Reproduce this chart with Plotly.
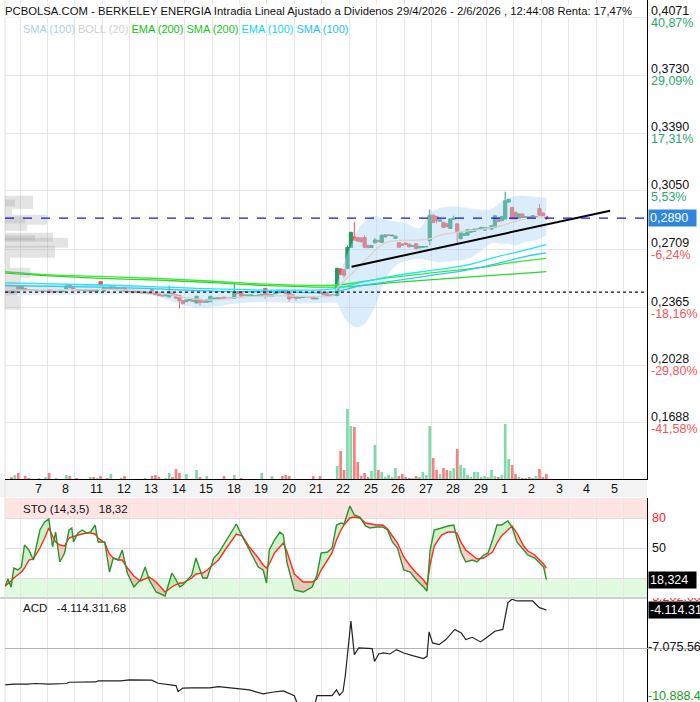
import plotly.graph_objects as go

W, H = 700, 702
FONT = "Liberation Sans, Arial, sans-serif"

# ---------------- data ----------------
title_text = ("PCBOLSA.COM - BERKELEY ENERGIA Intradia Lineal Ajustado a Dividenos "
              "29/4/2026 - 2/6/2026 , 12:44:08 Renta: 17,47%")
legend_items = ["SMA (100)", "BOLL (20)", "EMA (200)", "SMA (200)", "EMA (100)", "SMA (100)"]
day_labels = ["7", "8", "11", "12", "13", "14", "15", "18", "19", "20", "21", "22",
              "25", "26", "27", "28", "29", "1", "2", "3", "4", "5"]
bars_per_day = 8
first_day_start = 7.5          # bar position where day "7" opens

opens = [
    .2462, .2458, .2455, .2490, .2474, .2478, .2468, .2466,
    .2468, .2464, .2466, .2462, .2470, .2462, .2458, .2460,
    .2458, .2476, .2498, .2482, .2470, .2468, .2466, .2468,
    .2464, .2466, .2462, .2517, .2462, .2484, .2478, .2486,
    .2470, .2476, .2482, .2462, .2458, .2460, .2456, .2458,
    .2452, .2455, .2470, .2448, .2446, .2438, .2434, .2428,
    .2450, .2440, .2436, .2406, .2400, .2406, .2410, .2392,
    .2414, .2404, .2396, .2400, .2416, .2418, .2422, .2426,
    .2420, .2419, .2420, .2460, .2459, .2440, .2436, .2438,
    .2432, .2436, .2438, .2478, .2444, .2432, .2446, .2452,
    .2462, .2466, .2456, .2440, .2430, .2422, .2424, .2428,
    .2430, .2428, .2416, .2458, .2450, .2446, .2440, .2436,
    .2436, .2592, .2588, .2595, .2718, .2780, .2776, .2774,
    .2776, .2730, .2718, .2746, .2760, .2748, .2780, .2790,
    .2786, .2772, .2746, .2738, .2744, .2738, .2726, .2740,
    .2716, .2720, .2722, .2758, .2908, .2900, .2872, .2865,
    .2858, .2830, .2884, .2857, .2770, .2790, .2790, .2808,
    .2812, .2824, .2826, .2820, .2832, .2826, .2836, .2890,
    .2875, .2885, .2985, .2953, .2925, .2890, .2915, .2896,
    .2898, .2890, .2900, .2947, .2920, .2900]
highs = [
    .2464, .2460, .2460, .2494, .2492, .2480, .2470, .2470,
    .2470, .2468, .2468, .2466, .2472, .2464, .2462, .2462,
    .2464, .2496, .2502, .2484, .2472, .2470, .2470, .2470,
    .2468, .2468, .2466, .2520, .2486, .2486, .2490, .2488,
    .2478, .2478, .2484, .2464, .2462, .2462, .2460, .2460,
    .2456, .2456, .2472, .2450, .2448, .2440, .2442, .2494,
    .2452, .2442, .2438, .2408, .2412, .2416, .2412, .2434,
    .2416, .2406, .2414, .2434, .2422, .2424, .2424, .2428,
    .2422, .2423, .2505, .2462, .2462, .2442, .2440, .2442,
    .2438, .2440, .2444, .2480, .2446, .2442, .2454, .2466,
    .2466, .2468, .2458, .2442, .2432, .2426, .2430, .2432,
    .2432, .2430, .2422, .2468, .2452, .2448, .2442, .2442,
    .2600, .2596, .2590, .2730, .2812, .2869, .2780, .2778,
    .2790, .2735, .2734, .2775, .2764, .2796, .2796, .2794,
    .2794, .2788, .2750, .2742, .2748, .2740, .2732, .2744,
    .2728, .2724, .2726, .2940, .2912, .2904, .2884, .2868,
    .2862, .2890, .2905, .2860, .2810, .2802, .2826, .2824,
    .2830, .2830, .2840, .2838, .2836, .2850, .2910, .2896,
    .2904, .3045, .3004, .2958, .2928, .2918, .2918, .2900,
    .2900, .2908, .2904, .2973, .2924, .2904]
lows = [
    .2454, .2450, .2453, .2472, .2472, .2468, .2464, .2464,
    .2462, .2462, .2460, .2460, .2452, .2456, .2456, .2456,
    .2456, .2474, .2480, .2468, .2466, .2464, .2464, .2462,
    .2462, .2460, .2460, .2496, .2458, .2476, .2476, .2468,
    .2468, .2468, .2460, .2456, .2456, .2454, .2454, .2450,
    .2450, .2448, .2446, .2440, .2434, .2432, .2432, .2424,
    .2436, .2418, .2360, .2386, .2398, .2404, .2398, .2390,
    .2376, .2396, .2394, .2398, .2414, .2416, .2416, .2418,
    .2418, .2417, .2418, .2444, .2430, .2434, .2434, .2436,
    .2430, .2434, .2436, .2418, .2428, .2430, .2444, .2450,
    .2458, .2444, .2400, .2422, .2405, .2420, .2422, .2426,
    .2426, .2414, .2414, .2446, .2438, .2436, .2434, .2434,
    .2432, .2555, .2540, .2590, .2716, .2758, .2750, .2748,
    .2714, .2712, .2716, .2740, .2748, .2746, .2778, .2786,
    .2784, .2770, .2716, .2728, .2732, .2718, .2724, .2708,
    .2714, .2716, .2718, .2730, .2860, .2860, .2870, .2832,
    .2838, .2828, .2882, .2742, .2766, .2786, .2788, .2806,
    .2810, .2820, .2822, .2818, .2828, .2820, .2832, .2868,
    .2872, .2882, .2980, .2882, .2882, .2888, .2890, .2894,
    .2892, .2888, .2898, .2905, .2898, .2880]
closes = [
    .2456, .2452, .2458, .2474, .2490, .2470, .2466, .2468,
    .2464, .2466, .2462, .2465, .2456, .2458, .2460, .2458,
    .2462, .2492, .2482, .2470, .2468, .2466, .2468, .2464,
    .2466, .2462, .2464, .2498, .2484, .2478, .2486, .2470,
    .2476, .2470, .2462, .2458, .2460, .2456, .2458, .2452,
    .2455, .2450, .2448, .2442, .2436, .2434, .2440, .2458,
    .2438, .2420, .2406, .2388, .2410, .2414, .2400, .2432,
    .2396, .2398, .2412, .2432, .2420, .2422, .2418, .2420,
    .2419, .2421, .2458, .2446, .2432, .2436, .2438, .2440,
    .2436, .2438, .2442, .2440, .2430, .2440, .2452, .2464,
    .2460, .2446, .2416, .2424, .2420, .2424, .2428, .2430,
    .2428, .2416, .2420, .2448, .2440, .2438, .2436, .2440,
    .2595, .2560, .2555, .2718, .2806, .2762, .2756, .2752,
    .2720, .2718, .2730, .2762, .2752, .2790, .2792, .2790,
    .2790, .2784, .2720, .2732, .2736, .2722, .2728, .2712,
    .2724, .2722, .2724, .2908, .2865, .2876, .2880, .2836,
    .2840, .2886, .2890, .2806, .2806, .2798, .2822, .2820,
    .2826, .2826, .2836, .2834, .2834, .2846, .2904, .2870,
    .2900, .2992, .3000, .2885, .2885, .2915, .2894, .2898,
    .2894, .2905, .2900, .2908, .2900, .2890]
volumes = [
    0, 2, 4, 6, 0, 3, 1, 0,
    0, 1, 0, 2, 6, 0, 1, 0,
    0, 4, 3, 0, 1, 0, 0, 0,
    2, 2, 1, 3, 0, 1, 5, 0,
    0, 1, 3, 0, 0, 0, 0, 0,
    1, 0, 3, 4, 2, 0, 1, 6,
    2, 10, 6, 0, 5, 0, 0, 9,
    2, 0, 3, 0, 0, 0, 0, 3,
    0, 0, 4, 0, 1, 0, 0, 0,
    0, 0, 6, 0, 0, 3, 0, 0,
    3, 4, 3, 0, 0, 0, 0, 0,
    0, 3, 0, 3, 0, 0, 0, 0,
    13, 28, 9, 70, 53, 52, 17, 3,
    6, 2, 8, 34, 9, 7, 2, 4,
    2, 11, 3, 5, 2, 1, 1, 3,
    2, 7, 4, 53, 21, 9, 5, 11,
    9, 8, 11, 30, 14, 11, 4, 2,
    7, 7, 2, 3, 2, 9, 3, 2,
    4, 55, 20, 14, 5, 2, 1, 1,
    2, 1, 3, 10, 2, 5]

# moving averages (bar position, price)
ema200_x = [-1, 12, 27, 44, 60, 72, 96, 108, 123, 138, 147, 157]
ema200_y = [.2576, .2557, .2548, .2536, .2520, .2506, .2498, .2533, .2568, .2601, .2630, .2654]
sma200_x = [-1, 12, 27, 44, 60, 72, 96, 113, 133, 147, 157]
sma200_y = [.2568, .2552, .2537, .2526, .2512, .2498, .2486, .2513, .2543, .2562, .2576]
ema100_x = [-1, 27, 40, 60, 80, 95, 103, 113, 123, 133, 142, 152, 157]
ema100_y = [.2510, .2498, .2490, .2475, .2468, .2475, .2513, .2553, .2582, .2611, .2660, .2709, .2735]
sma100_x = [-1, 27, 40, 60, 80, 95, 103, 113, 123, 133, 142, 152, 157]
sma100_y = [.2495, .2485, .2478, .2462, .2457, .2457, .2494, .2523, .2553, .2582, .2621, .2670, .2686]

# Bollinger (20)
boll_x = [-1, 10, 20, 30, 40, 45, 50, 55, 60, 65, 70, 75, 80, 85, 90, 95, 96, 98, 100, 102,
          104, 106, 108, 110, 113, 116, 120, 123, 126, 130, 134, 138, 141, 144, 146, 148, 151, 154, 157]
boll_lo = [.2435, .2440, .2442, .2444, .2440, .2420, .2385, .2365, .2370, .2385, .2395, .2398, .2395,
           .2390, .2392, .2395, .2390, .2310, .2265, .2250, .2270, .2330, .2420, .2530, .2610, .2640,
           .2650, .2640, .2630, .2640, .2650, .2700, .2745, .2740, .2740, .2730, .2750, .2760, .2790]
boll_mid = [.2465, .2468, .2470, .2472, .2462, .2450, .2430, .2415, .2410, .2420, .2430, .2432, .2435,
            .2432, .2430, .2436, .2480, .2520, .2560, .2600, .2640, .2680, .2720, .2745, .2758, .2760,
            .2762, .2769, .2790, .2805, .2815, .2825, .2835, .2846, .2860, .2872, .2885, .2894, .2900]
boll_up = [.2500, .2498, .2500, .2502, .2490, .2480, .2475, .2480, .2465, .2460, .2465, .2468, .2475,
           .2472, .2468, .2475, .2510, .2630, .2730, .2820, .2870, .2900, .2900, .2880, .2870, .2860,
           .2830, .2920, .2950, .2960, .2950, .2940, .2945, .2990, .3010, .3020, .3020, .3015, .3010]

# drawn trend line and reference levels
trend_x = [100.2, 175.6]
trend_y = [.2605, .2934]
last_price = 0.2890
support_level = 0.2456

# volume-by-price profile
prof_lo = [.2945, .2910, .2852, .2816, .2752, .2717, .2658, .2599, .2541, .2494, .2435, .2353, .2960, .2860, .2760]
prof_hi = [.3022, .2945, .2910, .2852, .2805, .2775, .2728, .2658, .2599, .2541, .2494, .2435, .3000, .2900, .2790]
prof_vol = [28, 7, 42, 22, 48, 63, 50, 5, 25, 15, 12, 15, 10, 20, 30]

# right price scale
price_ticks = [0.4071, 0.3730, 0.3390, 0.3050, 0.2709, 0.2365, 0.2028, 0.1688, 0.1347]
price_pct = ["40,87%", "29,09%", "17,31%", "5,53%", "-6,24%", "-18,16%", "-29,80%", "-41,58%", ""]

# Stochastic (14,3,5)
sto_x = [-0.8, 0, 0.9, 1.7, 2.9, 3.9, 4.8, 6.1, 7.4, 9.3, 10.7, 11.9, 13, 13.9, 15.1, 16.5, 17.8,
         18.6, 19.1, 20.4, 21.7, 23, 24.1, 25.4, 26.3, 28.2, 29.6, 30.7, 32.2, 33.3, 34.8, 36.7,
         38.6, 40, 41.2, 43.2, 45.8, 47.8, 48.7, 50.1, 51, 53.6, 54.8, 56.8, 58.1, 60, 61.4, 63.3,
         65.2, 66.6, 68.4, 70.4, 73, 74.4, 75.4, 76.2, 77.7, 79.3, 80.3, 81.4, 83.5, 86.1, 88.7,
         90.1, 91.3, 93.2, 94.5, 95.8, 97.1, 98, 99.7, 101, 102.6, 104.3, 105.5, 107.5, 109.3,
         110.7, 112.1, 113.6, 115.4, 117.3, 119.1, 121.2, 122.2, 123.1, 124.3, 126.4, 128.3, 130,
         130.9, 132.2, 133.5, 135.4, 136.8, 138.7, 140, 141.3, 142.6, 143.9, 145.8, 147, 148.4,
         150.4, 151.6, 153.6, 155, 156.2, 157]
sto_k = [12, 19, 11, 30, 28, 31, 53, 48, 38, 68, 76, 79, 51, 66, 36, 45, 68, 70, 56, 65,
         68, 65, 66, 73, 56, 56, 26, 40, 38, 48, 25, 11, 18, 31, 18, 6, 2, 25, 20, 11,
         13, 23, 40, 20, 20, 40, 45, 56, 66, 74, 61, 48, 31, 28, 15, 48, 58, 66, 63, 35,
         8, 6, 11, 23, 45, 46, 50, 73, 75, 74, 92, 83, 81, 72, 70, 71, 71, 68, 56, 50,
         28, 26, 18, 11, 7, 48, 68, 70, 72, 73, 60, 45, 36, 38, 36, 43, 45, 58, 73, 73,
         77, 71, 56, 48, 43, 40, 35, 31, 18.324]
sto_d = [12, 14, 17, 20, 23, 26, 30, 38, 39, 50, 60, 70, 62, 56, 53, 52, 60, 61, 62, 63,
         64, 65, 65, 64, 60, 55, 44, 40, 38, 38, 30, 22, 17, 19, 21, 16, 6, 11, 13, 15,
         15, 20, 24, 25, 28, 34, 38, 48, 58, 64, 62, 51, 40, 33, 30, 34, 45, 51, 55, 46,
         24, 16, 16, 19, 28, 38, 45, 58, 68, 73, 80, 81, 80, 75, 74, 73, 73, 69, 62, 55,
         41, 32, 25, 18, 13, 33, 52, 63, 66, 66, 65, 55, 48, 43, 39, 40, 43, 46, 55, 62,
         68, 72, 65, 52, 47, 43, 38, 34, 30]
sto_label = "STO (14,3,5)   18,32"
sto_last = "18,324"

# Accumulation / distribution (millions)
acd_x = [-0.8, 1.6, 5.5, 8.1, 11.9, 17.1, 17.8, 21.1, 23.7, 25.5, 26.3, 32.8, 35.4, 39.3, 41.9,
         43.8, 49, 49.6, 51, 53.6, 58.8, 61.4, 65.2, 70.4, 74.4, 77, 80.3, 83.5, 84.5, 89.5,
         90.1, 94.5, 95.8, 96.7, 97.7, 98.4, 100, 101, 102.3, 105.5, 106.2, 106.9, 108.1, 109.5,
         111.4, 113.3, 115.4, 118, 121.2, 122.2, 122.8, 123.8, 125.7, 127.7, 130.3, 132.2, 133.5,
         135.4, 137.8, 139.4, 142, 144.3, 145.8, 147, 148.4, 153, 155, 157]
acd_v = [-9.95, -9.89, -9.89, -9.84, -9.89, -9.84, -9.74, -9.74, -9.69, -9.72, -9.64, -9.64, -9.56,
         -9.58, -9.58, -9.82, -10.0, -10.47, -10.2, -10.18, -10.18, -10.08, -10.2, -10.34, -10.65,
         -10.52, -10.42, -10.79, -11.5, -11.5, -10.79, -10.79, -10.34, -10.75, -10.47, -9.16, -4.98,
         -7.59, -7.07, -7.07, -7.12, -8.12, -7.54, -7.46, -7.54, -7.2, -7.46, -7.67, -7.9, -7.72,
         -5.82, -6.68, -6.81, -6.42, -5.63, -5.9, -6.42, -6.24, -6.6, -6.3, -5.77, -5.63, -3.54,
         -3.28, -3.41, -3.41, -3.93, -4.114]
acd_label = "ACD   -4.114.311,68"
acd_scale_vals = [-3.202, -7.0756, -10.888]
acd_scale_txt = ["-3.202.000", "-7.075.560", "-10.888.400"]
acd_last_txt = "-4.114.311"

# ---------------- layout geometry (pixels) ----------------
X0, X1 = 5, 647
MAIN_T, MAIN_B = 0, 479
BAND_B = 497
STO_T, STO_B = 498, 598
ACD_T, ACD_B = 598, 702
BAR_PX = 3.429                       # pixels per bar
XR = [(X0 - 8) / BAR_PX, (X1 - 8) / BAR_PX]
PRICE_RANGE = [0.1359, 0.4171]
ACD_RANGE = [-11.28, -3.18]


def fx(p):
    return p / W


def fy(p):
    return 1 - p / H


GREEN_C, RED_C = "#1f9a64", "#f24c4c"
VOL_G, VOL_R = "#7edaa8", "#f98080"
GRID = "#e6e6e6"

bar_x = list(range(len(closes)))
fig = go.Figure()

# volume profile
fig.add_trace(go.Bar(orientation="h", x=prof_vol,
                     y=[(a + b) / 2 for a, b in zip(prof_lo, prof_hi)],
                     width=[b - a for a, b in zip(prof_lo, prof_hi)], base=0,
                     marker=dict(color="rgba(150,150,150,0.26)", line=dict(width=0)),
                     xaxis="x4", yaxis="y", hoverinfo="skip"))
# Bollinger band
fig.add_trace(go.Scatter(x=boll_x, y=boll_lo, mode="lines", line=dict(width=0, shape="spline"),
                         xaxis="x", yaxis="y", hoverinfo="skip"))
fig.add_trace(go.Scatter(x=boll_x, y=boll_up, mode="lines", line=dict(width=0, shape="spline"),
                         fill="tonexty", fillcolor="rgba(175,212,243,0.45)",
                         xaxis="x", yaxis="y", hoverinfo="skip"))
# volume
vcol = [VOL_G if c >= o else VOL_R for o, c in zip(opens, closes)]
fig.add_trace(go.Bar(x=bar_x, y=volumes, width=0.78, marker=dict(color=vcol, line=dict(width=0)),
                     xaxis="x", yaxis="y2", hoverinfo="skip"))
# moving averages
for xs, ys, col in [(ema200_x, ema200_y, "#36e836"), (sma200_x, sma200_y, "#2cd62c"),
                    (ema100_x, ema100_y, "#1ce6f7"), (sma100_x, sma100_y, "#2ec8f4")]:
    fig.add_trace(go.Scatter(x=xs, y=ys, mode="lines", line=dict(color=col, width=1.3, shape="spline"),
                             xaxis="x", yaxis="y", hoverinfo="skip"))
fig.add_trace(go.Scatter(x=boll_x, y=boll_mid, mode="lines",
                         line=dict(color="#d9d3cc", width=1.3, shape="spline"),
                         xaxis="x", yaxis="y", hoverinfo="skip"))
# candles
fig.add_trace(go.Candlestick(x=bar_x, open=opens, high=highs, low=lows, close=closes,
                             increasing=dict(line=dict(color=GREEN_C, width=1), fillcolor=GREEN_C),
                             decreasing=dict(line=dict(color=RED_C, width=1), fillcolor=RED_C),
                             whiskerwidth=0, xaxis="x", yaxis="y", hoverinfo="skip"))
# trend line
fig.add_trace(go.Scatter(x=trend_x, y=trend_y, mode="lines", line=dict(color="black", width=2),
                         xaxis="x", yaxis="y", hoverinfo="skip"))


# stochastic fills between %K and %D
def split_fill(x, a, b):
    pos, neg = ([], []), ([], [])

    def flush(seg, positive):
        tgt = pos if positive else neg
        tgt[0].extend([p[0] for p in seg] + [p[0] for p in reversed(seg)] + [None])
        tgt[1].extend([p[1] for p in seg] + [p[2] for p in reversed(seg)] + [None])

    seg = [(x[0], a[0], b[0])]
    sgn = a[0] >= b[0]
    for i in range(1, len(x)):
        d0 = a[i - 1] - b[i - 1]
        d1 = a[i] - b[i]
        if d0 * d1 < 0:
            t = d0 / (d0 - d1)
            xc = x[i - 1] + t * (x[i] - x[i - 1])
            yc = a[i - 1] + t * (a[i] - a[i - 1])
            seg.append((xc, yc, yc))
            flush(seg, sgn)
            seg = [(xc, yc, yc)]
            sgn = d1 > 0
        seg.append((x[i], a[i], b[i]))
    flush(seg, sgn)
    return pos, neg


pos, neg = split_fill(sto_x, sto_k, sto_d)
fig.add_trace(go.Scatter(x=pos[0], y=pos[1], mode="lines", line=dict(width=0), fill="toself",
                         fillcolor="rgba(90,225,90,0.33)", xaxis="x2", yaxis="y3", hoverinfo="skip"))
fig.add_trace(go.Scatter(x=neg[0], y=neg[1], mode="lines", line=dict(width=0), fill="toself",
                         fillcolor="rgba(235,110,90,0.33)", xaxis="x2", yaxis="y3", hoverinfo="skip"))
fig.add_trace(go.Scatter(x=sto_x, y=sto_d, mode="lines", line=dict(color="#ff2a1a", width=1.4),
                         xaxis="x2", yaxis="y3", hoverinfo="skip"))
fig.add_trace(go.Scatter(x=sto_x, y=sto_k, mode="lines", line=dict(color="#2f8f2f", width=1.4),
                         xaxis="x2", yaxis="y3", hoverinfo="skip"))
# A/D line
fig.add_trace(go.Scatter(x=acd_x, y=acd_v, mode="lines", line=dict(color="#222222", width=1.2),
                         xaxis="x3", yaxis="y4", hoverinfo="skip"))
# ACD right scale labels (clipped to the panel)
fig.add_trace(go.Scatter(x=[1, 1, 1], y=acd_scale_vals, mode="text", text=acd_scale_txt,
                         textposition="middle right", cliponaxis=True,
                         textfont=dict(family=FONT, size=12.5, color=["#ff2020", "#111111", "#1a9a1a"]),
                         xaxis="x5", yaxis="y4", hoverinfo="skip"))

grid_vals = [first_day_start - bars_per_day / 2 + bars_per_day * k for k in range(len(day_labels) + 1)]
common_x = dict(range=XR, domain=[fx(X0), fx(X1)], tickvals=grid_vals, showticklabels=False,
                showgrid=True, gridcolor=GRID, gridwidth=1, zeroline=False, ticks="", fixedrange=True)

layout = dict(
    width=W, height=H, margin=dict(l=0, r=0, t=0, b=0),
    paper_bgcolor="white", plot_bgcolor="white", showlegend=False,
    font=dict(family=FONT, size=12, color="#111111"),
    boxgap=0.05, boxgroupgap=0,
    xaxis=dict(**common_x, anchor="y", showline=True, linecolor="black", linewidth=1,
               rangeslider=dict(visible=False)),
    xaxis2=dict(**common_x, anchor="y3", matches="x"),
    xaxis3=dict(**common_x, anchor="y4", matches="x"),
    xaxis4=dict(overlaying="x", anchor="y", range=[0, X1 - X0], visible=False, fixedrange=True),
    xaxis5=dict(domain=[fx(X1), 1], anchor="y4", range=[0, W - X1], visible=False, fixedrange=True),
    yaxis=dict(domain=[fy(MAIN_B), fy(MAIN_T)], range=PRICE_RANGE, side="right", anchor="x",
               tickvals=price_ticks, showticklabels=False, showgrid=True, gridcolor=GRID,
               zeroline=False, showline=True, linecolor="black", linewidth=1, ticks=""),
    yaxis2=dict(overlaying="y", range=[0, max(volumes) * (MAIN_B - MAIN_T) / 70], visible=False),
    yaxis3=dict(domain=[fy(STO_B), fy(STO_T)], range=[0, 100], side="right", anchor="x2",
                tickvals=[20, 50, 80], showticklabels=False, showgrid=True, gridcolor="#dcdcdc",
                zeroline=False, showline=True, linecolor="black", linewidth=1, ticks=""),
    yaxis4=dict(domain=[0, fy(ACD_T)], range=ACD_RANGE, side="right", anchor="x3",
                tickvals=[acd_scale_vals[1]], showticklabels=False, showgrid=True, gridcolor="#b4b4b4",
                zeroline=False, showline=True, linecolor="black", linewidth=1, ticks=""),
)

shapes = [
    # x-axis label band
    dict(type="rect", xref="paper", yref="paper", x0=0, x1=fx(X1), y0=fy(BAND_B), y1=fy(MAIN_B),
         fillcolor="#f3f3f3", line=dict(width=0), layer="below"),
    # stochastic zones
    dict(type="rect", xref="paper", yref="y3", x0=fx(X0), x1=fx(X1), y0=80, y1=100,
         fillcolor="#ffe4e4", line=dict(width=0), layer="below"),
    dict(type="rect", xref="paper", yref="y3", x0=fx(X0), x1=fx(X1), y0=0, y1=20,
         fillcolor="#e0fbe0", line=dict(width=0), layer="below"),
    # panel separators
    dict(type="line", xref="paper", yref="paper", x0=0, x1=fx(X1), y0=fy(ACD_T), y1=fy(ACD_T),
         line=dict(color="#cfcfcf", width=2)),
    dict(type="line", xref="paper", yref="paper", x0=fx(X0), x1=fx(X0), y0=0, y1=1,
         line=dict(color="#e0e0e0", width=1), layer="below"),
    # last price and support
    dict(type="line", xref="paper", yref="y", x0=fx(X0), x1=fx(X1), y0=last_price, y1=last_price,
         line=dict(color="#1515d8", width=1.2, dash="dash")),
    dict(type="line", xref="paper", yref="y", x0=fx(X0), x1=fx(X1), y0=support_level, y1=support_level,
         line=dict(color="#111111", width=1.2, dash="dot")),
]
layout["shapes"] = shapes

ann = []
ann.append(dict(xref="paper", yref="paper", x=fx(4), y=fy(11), xanchor="left", yanchor="middle",
                text=title_text, showarrow=False, font=dict(size=11.3, color="#111111"),
                bgcolor="white", borderpad=0))
leg_cols = ["#a9cff2", "#cfcfcf", "#12c412", "#22c422", "#12d6ee", "#22c2f4"]
leg_txt = " ".join(f"<span style='color:{c}'>{t}</span>" for t, c in zip(legend_items, leg_cols))
ann.append(dict(xref="paper", yref="paper", x=fx(21), y=fy(29), xanchor="left", yanchor="middle",
                text=leg_txt, showarrow=False, font=dict(size=11)))
# right price labels
for v, p in zip(price_ticks, price_pct):
    label = f"{v:.4f}".replace(".", ",")
    ann.append(dict(xref="paper", yref="y", x=fx(X1 + 2), y=v, xanchor="left", yanchor="middle",
                    yshift=6 if p else 4, text=label, showarrow=False, font=dict(size=12.5, color="#111")))
    if p:
        col = "#2aa86a" if not p.startswith("-") else "#f25555"
        ann.append(dict(xref="paper", yref="y", x=fx(X1 + 2), y=v, xanchor="left", yanchor="middle",
                        yshift=-6, text=p, showarrow=False, font=dict(size=12.5, color=col)))
ann.append(dict(xref="paper", yref="y", x=fx(X1 + 1), y=last_price, xanchor="left", yanchor="middle",
                text=f"{last_price:.4f}".replace(".", ",") + "&nbsp;&nbsp;", showarrow=False,
                bgcolor="#2f86dd", borderpad=1, font=dict(size=12.5, color="white")))
# day labels
for k, d in enumerate(day_labels):
    ann.append(dict(xref="x", yref="paper", x=first_day_start + bars_per_day * k - 0.3,
                    y=fy((MAIN_B + BAND_B) / 2 + 1), xanchor="left", yanchor="middle",
                    text=d, showarrow=False, font=dict(size=12.5, color="#111")))
# stochastic labels
ann.append(dict(xref="paper", yref="paper", x=fx(21), y=fy(STO_T + 11), xanchor="left", yanchor="middle",
                text=sto_label, showarrow=False, font=dict(size=11.5, color="#111")))
ann.append(dict(xref="paper", yref="y3", x=fx(X1 + 3), y=80, xanchor="left", yanchor="middle",
                text="80", showarrow=False, font=dict(size=12.5, color="#ff2020")))
ann.append(dict(xref="paper", yref="y3", x=fx(X1 + 3), y=50, xanchor="left", yanchor="middle",
                text="50", showarrow=False, font=dict(size=12.5, color="#111")))
ann.append(dict(xref="paper", yref="y3", x=fx(X1 + 1), y=sto_k[-1], xanchor="left", yanchor="middle",
                text=sto_last + "&nbsp;&nbsp;", showarrow=False, bgcolor="black", borderpad=1,
                font=dict(size=12.5, color="white")))
# ACD labels
ann.append(dict(xref="paper", yref="paper", x=fx(21), y=fy(ACD_T + 10), xanchor="left", yanchor="middle",
                text=acd_label, showarrow=False, font=dict(size=11.5, color="#111")))
ann.append(dict(xref="paper", yref="y4", x=fx(X1 + 1), y=acd_v[-1], xanchor="left", yanchor="middle",
                text=acd_last_txt, showarrow=False, bgcolor="black", borderpad=1,
                font=dict(size=12.5, color="white")))
layout["annotations"] = ann

fig.update_layout(**layout)
fig.write_html("out.html")
